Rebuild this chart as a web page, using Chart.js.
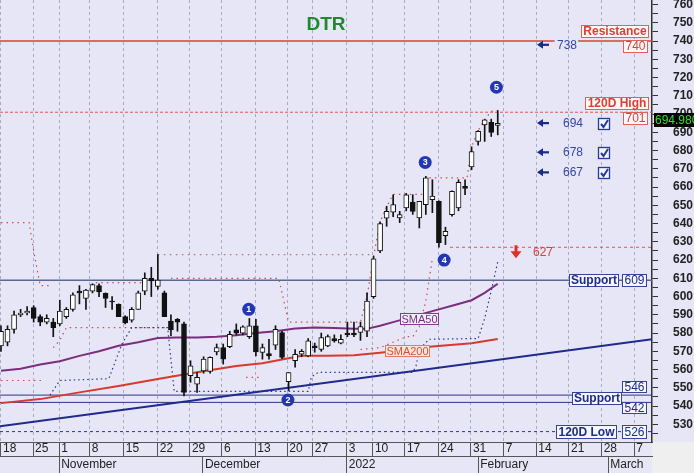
<!DOCTYPE html>
<html>
<head>
<meta charset="utf-8">
<script src="https://cdn.jsdelivr.net/npm/chart.js@4.4.1/dist/chart.umd.min.js"></script>
<style>
  html, body { margin: 0; padding: 0; background: #efefef; }
  #chart { display: block; }
</style>
</head>
<body>
<canvas id="chart" width="694" height="473"></canvas>
<script>
// daily candles, index 0 = Oct 18 2021 (trading days)
const opens  = [573, 575, 582, 590, 591, 594, 589, 586, 586, 585, 589, 593, 603, 599, 603, 606, 601.7, 597.5, 595.7, 589,
                587, 593, 603, 610, 605.5, 602, 586.6, 587.5, 585, 556.6, 552, 559.3, 559, 569.7, 572, 572.6, 581.7, 580, 578, 584,
                569.4, 568.8, 573.3, 580.3, 553.3, 564.8, 568.4, 567.5, 573, 571, 573, 577, 574.4, 580, 580, 580.3, 581, 600, 625, 643,
                646.2, 643.1, 648.6, 651.7, 643.1, 650.4, 653.1, 652.2, 633.4, 644.9, 648.6, 660.4, 671, 685, 694.1, 695.4, 693.8];
const highs  = [584, 584, 592, 593, 594.5, 595, 590, 590, 588, 598, 594, 602, 606, 604, 607, 607, 602, 600, 596, 589.5,
                594, 603, 613, 616, 623, 603, 590, 588, 586, 564.8, 558.4, 567, 567, 574, 574, 581, 585, 584, 588, 587.5,
                574, 576.6, 584, 581, 558.4, 571, 571, 577, 574.5, 580, 579, 579, 579, 586, 586, 586, 602, 622, 641, 649.5,
                655.8, 646.7, 656.5, 655.8, 652.2, 665.9, 664, 652.5, 638, 658, 664, 664, 682, 691, 697, 697.2, 701.9];
const lows   = [570, 573, 580, 589, 590, 586, 584, 585, 578, 584, 588, 592, 596, 593, 602, 600, 594, 593, 589, 585,
                586, 593, 601, 600, 604, 589, 578.5, 581, 545.6, 553, 547.5, 558, 558, 568, 563, 572, 579, 579, 577, 567.5,
                565.7, 565.7, 571, 566, 548.4, 561.3, 567, 567, 569.5, 570, 572.5, 575, 574, 578, 578, 576, 578, 599, 624, 638.5,
                643.8, 640.5, 647, 645, 637.6, 645, 646, 627, 628.5, 644, 647, 655.8, 669.5, 683, 685, 687.7, 688.6];
const closes = [581, 582, 590, 591, 592, 588, 586, 588, 583, 592, 593, 601, 602, 603.5, 606.5, 602.5, 599, 597, 589, 585.5,
                593, 602, 610, 608.5, 609, 589, 581.7, 586, 547.5, 562, 555.7, 565.7, 566.7, 572, 565.7, 579.3, 580, 583.4, 584, 569.7,
                572, 567.5, 582, 566.6, 558.4, 568.4, 570, 575.7, 572, 577.5, 578, 575.7, 576.6, 579, 579, 583.5, 597.5, 620.7, 640, 646.7,
                650.4, 644.9, 655.8, 646.7, 652.2, 665, 655, 629.5, 635.8, 657.7, 662.6, 659.3, 679.5, 690.5, 696.8, 689.9, 694.98];

// moving averages, read at some days
const sma50Days  = [0, 3, 6, 9, 12, 15, 18, 21, 24, 27, 30, 33, 36, 39, 42, 45, 48, 51, 54, 56, 58, 60, 63, 66, 69, 72, 74, 76];
const sma50Vals  = [559.3, 560.5, 562.8, 564.5, 567.5, 570, 573, 575, 577.3, 577.5, 577.5, 578, 578.8, 580, 581, 582.5, 583, 582.7, 582.3, 582.3, 584, 586, 589, 592, 595, 598, 602, 607];
const sma200Days = [0, 6, 12, 18, 24, 30, 36, 40, 46, 50, 54, 58, 62, 66, 72, 76];
const sma200Vals = [541.6, 543.8, 547.5, 551, 554.8, 558.5, 562, 563.5, 567.5, 567.6, 567.9, 569.2, 570.8, 572.6, 574.4, 576.7];

// trend line end points
const trendDays = [-0.15, 99.6];
const trendVals = [528.9, 576.6];

// dotted channel lines [day, value]
const redUpperSegs = [
  [[0, 640.5], [4.3, 640.5], [5, 625], [6, 606], [7.5, 606]],
  [[14.5, 607.6], [22, 607.6]],
  [[26, 610], [42.5, 610], [44, 586], [55, 586], [56, 600], [57, 622], [58, 641], [59, 649], [60, 656], [64.5, 656],
   [65, 665], [71.3, 665], [72, 682], [73, 691], [74, 697], [75, 701.5], [76, 702]]
];
const upper623Seg = [[24, 623], [56.5, 623]];
const redLowerSegs = [
  [[0, 554], [6.5, 554]],
  [[8, 572], [9, 576], [10, 583], [25.5, 583]],
  [[37.5, 555.7], [39.5, 555.7]],
  [[55, 571], [58, 572], [62, 578], [63, 578], [64, 583.6], [65, 597.5], [66, 621]]
];
const navySeg = [[7.5, 546], [9, 554], [16.5, 555], [18.5, 574], [20, 583], [25.5, 583], [26.5, 548], [47, 548], [47.5, 556],
  [48.5, 558.4], [63, 558.5], [63.5, 562], [64, 571], [65.5, 576.6], [73, 577], [74, 588], [75, 603], [76, 619]];

// levels
const resistanceLevel = 740;
const high120Level = 701;
const supportLevels = [609, 546, 542];
const low120Level = 526;
const stopLevel = 627;
const stopFromDay = 68.7;
const targetLevels = [738, 694, 678, 667];
const targetChecked = [false, true, true, true];
const lastPrice = 694.98;

// numbered markers
const markerDays = [37.9, 43.9, 64.9, 67.8, 75.8];
const markerVals = [593, 543.3, 673.5, 620, 714.7];
const smaLabelText = ['SMA50', 'SMA200'];
const smaLabelDays = [64.0, 62.1];
const smaLabelVals = [588.1, 570.7];

// axis labels
const weekTickPos = [0, 4.9, 8.9, 13.6, 18.8, 24, 28.9, 33.8, 38.9, 43.8, 47.7, 52.9, 56.9, 61.8, 66.9, 71.9, 76.9, 81.9, 86.9, 91.9, 96.9];
const weekLabels = ['18', '25', '1', '8', '15', '22', '29', '6', '13', '20', '27', '3', '10', '17', '24', '31', '7', '14', '21', '28', '7'];
const monthPos = [8.9, 30.9, 52.9, 73.0, 92.9];
const monthLabels = ['November', 'December', '2022', 'February', 'March'];

const X_MIN = -0.15, X_MAX = 99.6;
const RED = '#d8403a', NAVY = '#1f2d85';

Chart.defaults.font.family = '"Liberation Sans", Arial, sans-serif';

const days = opens.map((_, i) => i);
const pts = (xs, ys) => xs.map((x, i) => ({ x: x, y: ys[i] }));
const seg = arr => arr.map(p => ({ x: p[0], y: p[1] }));
const hline = (v, from, to) => [{ x: from, y: v }, { x: to, y: v }];

function lineSet(data, color, width, dash, order) {
  return { type: 'line', data: data, borderColor: color, borderWidth: width, borderDash: dash || [],
           pointRadius: 0, tension: 0, fill: false, order: order };
}

const datasets = [
  { type: 'bar', data: days.map(i => ({ x: i, y: [opens[i], closes[i]] })),
    backgroundColor: days.map(i => closes[i] >= opens[i] ? '#ffffff' : '#111111'),
    borderColor: '#111', borderWidth: 1, borderSkipped: false, barThickness: 5, grouped: false, order: 0 },
  { type: 'bar', data: days.map(i => ({ x: i, y: [lows[i], highs[i]] })),
    backgroundColor: '#111', borderWidth: 0, barThickness: 1, grouped: false, order: 1 },
  lineSet(pts(sma50Days, sma50Vals), '#7d2d7d', 2, null, 2),
  lineSet(pts(sma200Days, sma200Vals), '#d8392c', 2, null, 2),
  lineSet(pts(trendDays, trendVals), '#1f2a8c', 2, null, 2),
  lineSet(hline(resistanceLevel, X_MIN, 84.7), RED, 1.5, null, 3),
  lineSet(hline(resistanceLevel, 88.3, X_MAX), RED, 1.5, null, 3),
  lineSet(hline(high120Level, X_MIN, X_MAX), '#e0554f', 1, [3, 2], 3),
  lineSet(hline(supportLevels[0], X_MIN, X_MAX), '#5b6892', 1.5, null, 3),
  lineSet(hline(supportLevels[1], X_MIN, X_MAX), '#2c3784', 1, null, 3),
  lineSet(hline(supportLevels[2], X_MIN, X_MAX), '#2c3784', 1, null, 3),
  lineSet(hline(low120Level, X_MIN, X_MAX), '#2c3784', 1, [3, 3], 3),
  lineSet(hline(stopLevel, stopFromDay, X_MAX), '#e0554f', 1, [3, 3], 3),
  lineSet(seg(upper623Seg), '#b87878', 1.2, [1.5, 4.5], 4),
  lineSet(seg(navySeg), '#2a3a90', 1.2, [1.5, 3], 4)
];
redUpperSegs.concat(redLowerSegs).forEach(s => datasets.push(lineSet(seg(s), '#d24a4a', 1.2, [1.5, 4], 4)));

function box(ctx, text, right, cy, font, fg, border, bg, padX, h) {
  ctx.font = font;
  const w = Math.round(ctx.measureText(text).width + padX * 2);
  const x = Math.round(right - w) + 0.5, y = Math.round(cy - h / 2) + 0.5;
  ctx.fillStyle = bg;
  ctx.fillRect(x, y, w, h);
  ctx.strokeStyle = border;
  ctx.lineWidth = 1;
  ctx.strokeRect(x, y, w, h);
  ctx.fillStyle = fg;
  ctx.textAlign = 'center';
  ctx.textBaseline = 'middle';
  ctx.fillText(text, x + w / 2, y + h / 2 + 0.5);
  return x;
}

const BOLD = 'bold 12px "Liberation Sans", Arial, sans-serif';
const REG = '12px "Liberation Sans", Arial, sans-serif';

const overlay = {
  id: 'overlay',
  beforeDraw(chart) {
    const { ctx, chartArea: a, width, height } = chart;
    ctx.save();
    ctx.fillStyle = '#e6e6f6';
    ctx.fillRect(0, 0, width, height);
    ctx.fillStyle = '#efefef';
    ctx.fillRect(a.right, a.bottom, width - a.right, height - a.bottom);
    ctx.restore();
  },
  afterDatasetsDraw(chart) {
    const { ctx, chartArea: a } = chart;
    const xs = chart.scales.x, ys = chart.scales.y;
    const R = a.right;
    ctx.save();

    // title
    ctx.font = 'bold 19px "Liberation Sans", Arial, sans-serif';
    ctx.fillStyle = '#1d8a2c';
    ctx.textAlign = 'center';
    ctx.textBaseline = 'middle';
    ctx.fillText('DTR', 326, 25);

    // resistance / 120D high
    let py = ys.getPixelForValue(resistanceLevel);
    box(ctx, 'Resistance', R - 4, py - 10, BOLD, RED, '#e0605a', '#fff8f8', 2, 12);
    box(ctx, String(resistanceLevel), R - 5, py + 4.5, REG, RED, '#e0605a', '#fff8f8', 2, 12);
    py = ys.getPixelForValue(high120Level);
    box(ctx, '120D High', R - 4, py - 9, BOLD, RED, '#e0605a', '#fff8f8', 2, 12);
    box(ctx, String(high120Level), R - 5, py + 5.5, REG, RED, '#e0605a', '#fff8f8', 2, 12);

    // supports
    py = ys.getPixelForValue(supportLevels[0]);
    let left = box(ctx, String(supportLevels[0]), R - 6, py, REG, NAVY, '#34449a', '#f6f6ff', 2, 12);
    box(ctx, 'Support', left - 5, py, BOLD, NAVY, '#34449a', '#f6f6ff', 1.5, 12);
    const p1 = ys.getPixelForValue(supportLevels[1]), p2 = ys.getPixelForValue(supportLevels[2]);
    box(ctx, String(supportLevels[1]), R - 6, p1 - 8.3, REG, NAVY, '#34449a', '#f6f6ff', 2, 11);
    left = box(ctx, String(supportLevels[2]), R - 6, p2 + 4.7, REG, NAVY, '#34449a', '#f6f6ff', 2, 11);
    box(ctx, 'Support', left - 2, (p1 + p2) / 2 - 1, BOLD, NAVY, '#34449a', '#f6f6ff', 1.5, 12);
    py = ys.getPixelForValue(low120Level);
    left = box(ctx, String(low120Level), R - 6, py, REG, NAVY, '#34449a', '#f6f6ff', 2, 13);
    box(ctx, '120D Low', left - 7, py, BOLD, NAVY, '#34449a', '#f6f6ff', 2, 13);

    // SMA tags
    smaLabelText.forEach((t, i) => {
      ctx.font = '11px "Liberation Sans", Arial, sans-serif';
      const w = ctx.measureText(t).width + 2;
      const cx = xs.getPixelForValue(smaLabelDays[i]);
      const cy = ys.getPixelForValue(smaLabelVals[i]);
      if (i === 0) box(ctx, t, cx + w / 2, cy, ctx.font, '#7b2f7b', '#8a3a8a', '#f3edf7', 1, 11);
      else box(ctx, t, cx + w / 2, cy, ctx.font, '#d0503f', '#e07a6a', '#fbe4de', 1, 11);
    });

    // target arrows
    targetLevels.forEach((v, i) => {
      const cy = ys.getPixelForValue(v) - (i === 0 ? 0 : 2);
      ctx.fillStyle = '#1a2a8a';
      ctx.beginPath();
      ctx.moveTo(537, cy);
      ctx.lineTo(543, cy - 4);
      ctx.lineTo(543, cy + 4);
      ctx.closePath();
      ctx.fill();
      ctx.fillRect(542, cy - 1, 7, 2.2);
      ctx.font = REG;
      ctx.fillStyle = '#3646a8';
      ctx.textAlign = 'left';
      ctx.textBaseline = 'middle';
      ctx.fillText(String(v), i === 0 ? 557 : 563, cy + 0.5);
      if (targetChecked[i]) {
        const bx = 598.5, by = Math.round(cy - 5.5) + 0.5;
        ctx.fillStyle = '#f4f4ff';
        ctx.fillRect(bx, by, 11, 11);
        ctx.strokeStyle = '#2a3a9a';
        ctx.lineWidth = 1.3;
        ctx.strokeRect(bx, by, 11, 11);
        ctx.lineWidth = 2;
        ctx.beginPath();
        ctx.moveTo(bx + 2.5, by + 5.5);
        ctx.lineTo(bx + 5, by + 8.5);
        ctx.lineTo(bx + 9.5, by + 1.5);
        ctx.stroke();
      }
    });

    // stop arrow 627
    py = ys.getPixelForValue(stopLevel);
    ctx.fillStyle = '#e0302a';
    ctx.fillRect(514.5, py - 2, 3, 7);
    ctx.beginPath();
    ctx.moveTo(510.5, py + 4);
    ctx.lineTo(521.5, py + 4);
    ctx.lineTo(516, py + 11);
    ctx.closePath();
    ctx.fill();
    ctx.font = REG;
    ctx.fillStyle = RED;
    ctx.textAlign = 'left';
    ctx.fillText(String(stopLevel), 533, py + 5.5);

    // numbered markers
    markerDays.forEach((d, i) => {
      const cx = xs.getPixelForValue(d), cy = ys.getPixelForValue(markerVals[i]);
      ctx.fillStyle = '#2336b4';
      ctx.beginPath();
      ctx.arc(cx, cy, 6.5, 0, Math.PI * 2);
      ctx.fill();
      ctx.fillStyle = '#ffffff';
      ctx.font = 'bold 9px "Liberation Sans", Arial, sans-serif';
      ctx.textAlign = 'center';
      ctx.textBaseline = 'middle';
      ctx.fillText(String(i + 1), cx, cy + 0.5);
    });
    ctx.restore();
  },
  afterDraw(chart) {
    const { ctx, chartArea: a } = chart;
    const py = chart.scales.y.getPixelForValue(lastPrice) - 3;
    ctx.save();
    ctx.fillStyle = '#000';
    ctx.fillRect(a.right + 2, Math.round(py - 7), 44, 14);
    ctx.fillStyle = '#33e033';
    ctx.font = REG;
    ctx.textAlign = 'left';
    ctx.textBaseline = 'middle';
    ctx.fillText(lastPrice.toFixed(3), a.right + 3, Math.round(py) + 0.5);
    ctx.restore();
  }
};

new Chart(document.getElementById('chart'), {
  type: 'bar',
  data: { datasets: datasets },
  plugins: [overlay],
  options: {
    responsive: false,
    animation: false,
    devicePixelRatio: 1,
    layout: { padding: 0 },
    plugins: { legend: { display: false }, tooltip: { enabled: false } },
    scales: {
      x: {
        type: 'linear', min: X_MIN, max: X_MAX, offset: false, weight: 0,
        afterBuildTicks: s => { s.ticks = weekTickPos.map(v => ({ value: v })); },
        afterFit: s => { s.height = 14.5; s.paddingLeft = 0; s.paddingRight = 0; },
        grid: { color: '#a9abc6', offset: false, tickLength: 15, tickColor: '#555', tickBorderDash: [] },
        border: { display: true, color: '#555', width: 1, dash: [3, 3] },
        ticks: { autoSkip: false, maxRotation: 0, align: 'start', padding: -15.2, labelOffset: 2,
                 color: '#222', font: { size: 12 }, callback: (v, i) => weekLabels[i] }
      },
      x2: {
        type: 'linear', position: 'bottom', min: X_MIN, max: X_MAX, offset: false, weight: 1,
        afterBuildTicks: s => { s.ticks = monthPos.map(v => ({ value: v })); },
        afterFit: s => { s.height = 16.5; s.paddingLeft = 0; s.paddingRight = 0; },
        grid: { drawOnChartArea: false, offset: false, tickLength: 17, tickColor: '#555' },
        border: { display: true, color: '#555', width: 1 },
        ticks: { autoSkip: false, maxRotation: 0, align: 'start', padding: -16, labelOffset: 2,
                 color: '#222', font: { size: 12 }, callback: (v, i) => monthLabels[i] }
      },
      y: {
        position: 'right', min: 520.3, max: 762.5,
        afterFit: s => { s.width = 42; s.paddingTop = 0; s.paddingBottom = 0; },
        grid: { drawOnChartArea: false, tickLength: 6, tickColor: '#333' },
        border: { color: '#333', width: 1.5 },
        ticks: { stepSize: 5, includeBounds: false, autoSkip: false, padding: 15, color: '#222',
                 font: { size: 12, weight: 'bold' }, callback: v => (v % 10 === 0 ? v : '') }
      }
    }
  }
});
</script>
</body>
</html>
